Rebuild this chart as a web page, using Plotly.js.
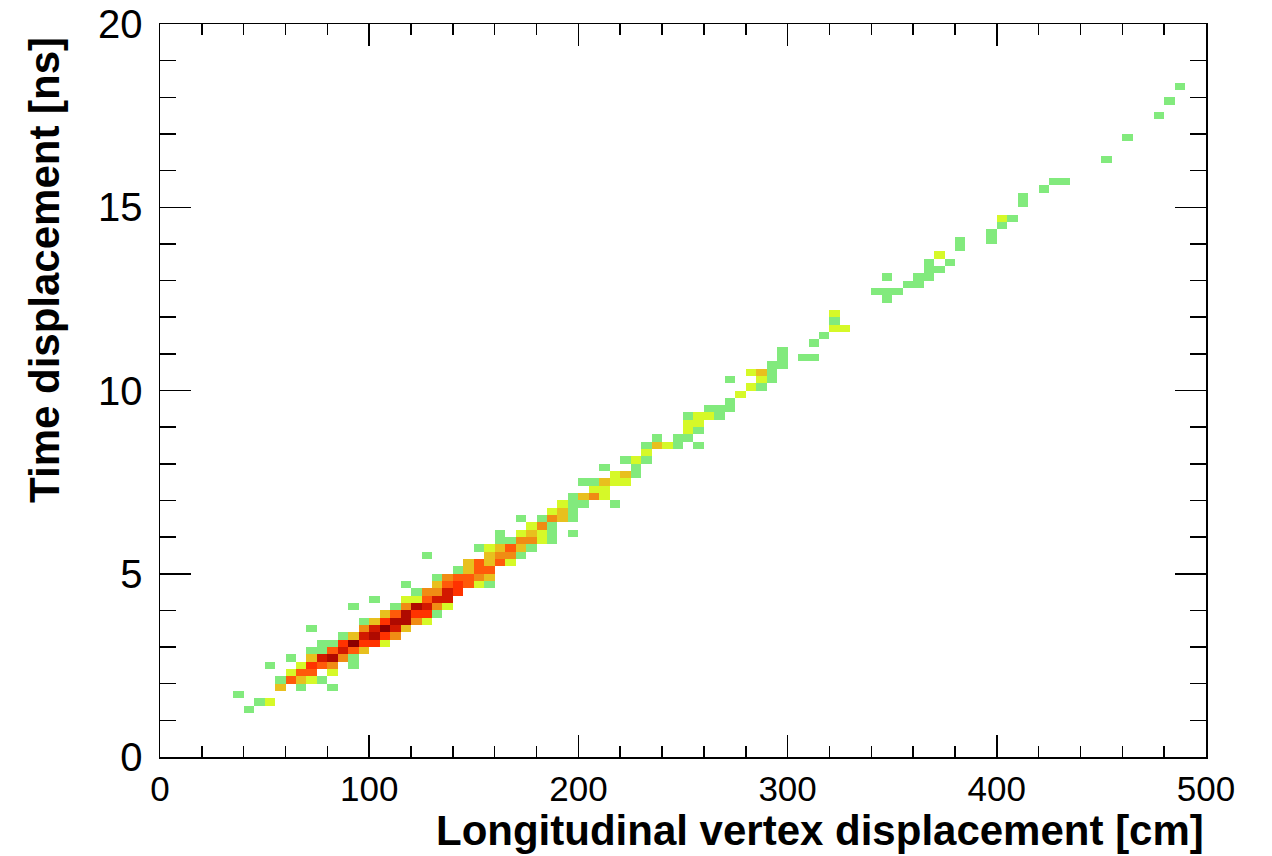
<!DOCTYPE html>
<html>
<head>
<meta charset="utf-8">
<script src="https://cdn.plot.ly/plotly-3.0.1.min.js"></script>
<style>
html,body{margin:0;padding:0;background:#ffffff;}
#chart{width:1272px;height:856px;}
</style>
</head>
<body>
<div id="chart"></div>
<script>
// ---- Data: filled bins of the 2D histogram (bin centre in cm, bin centre in ns, count level) ----
const cellX = [
  42.5,
  47.5, 52.5,
  37.5,
  57.5, 67.5, 82.5,
  57.5, 62.5, 67.5, 72.5, 77.5,
  62.5, 67.5, 72.5, 82.5,
  52.5, 67.5, 72.5, 77.5, 82.5, 92.5,
  62.5, 72.5, 77.5, 82.5, 87.5, 92.5,
  72.5, 77.5, 82.5, 87.5, 92.5, 97.5,
  77.5, 82.5, 87.5, 92.5, 97.5, 102.5, 107.5,
  87.5, 92.5, 97.5, 102.5, 107.5, 112.5,
  72.5, 97.5, 102.5, 107.5, 112.5, 117.5,
  97.5, 102.5, 107.5, 112.5, 117.5, 122.5, 127.5,
  107.5, 112.5, 117.5, 122.5, 127.5, 132.5,
  92.5, 112.5, 117.5, 122.5, 127.5, 132.5, 137.5,
  102.5, 117.5, 122.5, 127.5, 132.5, 137.5,
  122.5, 127.5, 132.5, 137.5, 142.5,
  117.5, 132.5, 137.5, 142.5, 147.5, 152.5, 157.5,
  132.5, 137.5, 142.5, 147.5, 152.5, 157.5,
  142.5, 147.5, 152.5, 157.5,
  147.5, 152.5, 157.5, 162.5, 167.5,
  127.5, 157.5, 162.5, 167.5, 172.5,
  152.5, 157.5, 162.5, 167.5, 172.5, 177.5,
  162.5, 167.5, 172.5, 177.5, 182.5, 187.5,
  162.5, 172.5, 177.5, 182.5, 187.5, 197.5,
  177.5, 182.5, 187.5,
  172.5, 182.5, 187.5, 192.5, 197.5,
  187.5, 192.5, 197.5,
  192.5, 197.5, 202.5, 217.5,
  197.5, 202.5, 207.5, 212.5,
  207.5, 212.5,
  202.5, 207.5, 212.5, 217.5, 222.5,
  217.5, 222.5, 227.5,
  212.5, 227.5,
  222.5, 227.5, 232.5,
  232.5,
  232.5, 237.5, 242.5, 247.5, 257.5,
  237.5, 247.5, 252.5,
  252.5, 257.5,
  252.5, 257.5,
  252.5, 257.5, 262.5, 267.5,
  262.5, 267.5, 272.5,
  272.5,
  277.5,
  282.5, 287.5,
  272.5, 287.5, 292.5,
  282.5, 287.5, 292.5,
  292.5, 297.5,
  297.5, 307.5, 312.5,
  297.5,
  312.5,
  317.5,
  322.5, 327.5,
  322.5,
  322.5,
  347.5,
  342.5, 347.5, 352.5,
  357.5, 362.5,
  347.5, 362.5, 367.5,
  367.5, 372.5,
  367.5, 377.5,
  372.5,
  382.5,
  382.5, 397.5,
  397.5,
  402.5,
  402.5, 407.5,
  412.5,
  412.5,
  422.5,
  427.5, 432.5,
  452.5,
  462.5,
  477.5,
  482.5,
  487.5
];
const cellY = [
  1.3,
  1.5, 1.5,
  1.7,
  1.9, 1.9, 1.9,
  2.1, 2.1, 2.1, 2.1, 2.1,
  2.3, 2.3, 2.3, 2.3,
  2.5, 2.5, 2.5, 2.5, 2.5, 2.5,
  2.7, 2.7, 2.7, 2.7, 2.7, 2.7,
  2.9, 2.9, 2.9, 2.9, 2.9, 2.9,
  3.1, 3.1, 3.1, 3.1, 3.1, 3.1, 3.1,
  3.3, 3.3, 3.3, 3.3, 3.3, 3.3,
  3.5, 3.5, 3.5, 3.5, 3.5, 3.5,
  3.7, 3.7, 3.7, 3.7, 3.7, 3.7, 3.7,
  3.9, 3.9, 3.9, 3.9, 3.9, 3.9,
  4.1, 4.1, 4.1, 4.1, 4.1, 4.1, 4.1,
  4.3, 4.3, 4.3, 4.3, 4.3, 4.3,
  4.5, 4.5, 4.5, 4.5, 4.5,
  4.7, 4.7, 4.7, 4.7, 4.7, 4.7, 4.7,
  4.9, 4.9, 4.9, 4.9, 4.9, 4.9,
  5.1, 5.1, 5.1, 5.1,
  5.3, 5.3, 5.3, 5.3, 5.3,
  5.5, 5.5, 5.5, 5.5, 5.5,
  5.7, 5.7, 5.7, 5.7, 5.7, 5.7,
  5.9, 5.9, 5.9, 5.9, 5.9, 5.9,
  6.1, 6.1, 6.1, 6.1, 6.1, 6.1,
  6.3, 6.3, 6.3,
  6.5, 6.5, 6.5, 6.5, 6.5,
  6.7, 6.7, 6.7,
  6.9, 6.9, 6.9, 6.9,
  7.1, 7.1, 7.1, 7.1,
  7.3, 7.3,
  7.5, 7.5, 7.5, 7.5, 7.5,
  7.7, 7.7, 7.7,
  7.9, 7.9,
  8.1, 8.1, 8.1,
  8.3,
  8.5, 8.5, 8.5, 8.5, 8.5,
  8.7, 8.7, 8.7,
  8.9, 8.9,
  9.1, 9.1,
  9.3, 9.3, 9.3, 9.3,
  9.5, 9.5, 9.5,
  9.7,
  9.9,
  10.1, 10.1,
  10.3, 10.3, 10.3,
  10.5, 10.5, 10.5,
  10.7, 10.7,
  10.9, 10.9, 10.9,
  11.1,
  11.3,
  11.5,
  11.7, 11.7,
  11.9,
  12.1,
  12.5,
  12.7, 12.7, 12.7,
  12.9, 12.9,
  13.1, 13.1, 13.1,
  13.3, 13.3,
  13.5, 13.5,
  13.7,
  13.9,
  14.1, 14.1,
  14.3,
  14.5,
  14.7, 14.7,
  15.1,
  15.3,
  15.5,
  15.7, 15.7,
  16.3,
  16.9,
  17.5,
  17.9,
  18.3
];
const cellCount = [
  1,
  1, 2,
  1,
  3, 1, 1,
  1, 5, 3, 2, 1,
  2, 5, 5, 2,
  1, 2, 6, 5, 4, 1,
  1, 3, 7, 8, 4, 1,
  1, 1, 5, 7, 5, 3,
  1, 1, 6, 9, 6, 6, 2,
  1, 3, 7, 8, 6, 4,
  1, 4, 7, 9, 7, 3,
  1, 3, 6, 8, 8, 4, 2,
  3, 5, 8, 6, 6, 1,
  1, 1, 4, 8, 7, 4, 2,
  1, 2, 2, 5, 7, 7,
  1, 4, 4, 7, 6,
  1, 3, 5, 6, 5, 2, 1,
  1, 4, 5, 5, 4, 3,
  1, 3, 5, 5,
  3, 5, 3, 5, 2,
  1, 3, 4, 4, 1,
  1, 2, 3, 5, 3, 1,
  1, 1, 4, 4, 2, 1,
  1, 2, 3, 2, 1, 1,
  2, 4, 1,
  1, 1, 4, 3, 1,
  2, 3, 1,
  2, 1, 1, 1,
  1, 3, 4, 2,
  2, 2,
  1, 1, 3, 2, 2,
  2, 3, 1,
  1, 1,
  1, 2, 1,
  2,
  1, 3, 2, 1, 1,
  1, 1, 1,
  2, 1,
  2, 2,
  1, 2, 2, 1,
  1, 1, 1,
  1,
  2,
  2, 1,
  1, 2, 1,
  2, 3, 1,
  1, 1,
  1, 1, 1,
  1,
  1,
  1,
  2, 2,
  1,
  2,
  1,
  1, 1, 1,
  1, 1,
  1, 1, 1,
  1, 1,
  1, 1,
  2,
  1,
  1, 1,
  1,
  1,
  2, 1,
  1,
  1,
  1,
  1, 1,
  1,
  1,
  1,
  1,
  1
];
// colour of each count level (1 = lowest ... 9 = highest)
const levelColors = ['#82ea7d', '#d6f928', '#e8c01e', '#f08c14', '#ff5a0a', '#ff3200', '#d21900', '#af0a00', '#8c0000'];
const xTickVals = [0, 100, 200, 300, 400, 500];
const yTickVals = [0, 5, 10, 15, 20];
const xTitle = 'Longitudinal vertex displacement [cm]';
const yTitle = 'Time displacement [ns]';
const xBins = {min: 0, max: 500, n: 100};
const yBins = {min: 0, max: 20, n: 100};

// ---- Build the 100x100 grid ----
const bw = (xBins.max - xBins.min) / xBins.n;
const bh = (yBins.max - yBins.min) / yBins.n;
const xc = Array.from({length: xBins.n}, (_, k) => xBins.min + bw * (k + 0.5));
const yc = Array.from({length: yBins.n}, (_, k) => yBins.min + bh * (k + 0.5));
const z = yc.map(() => xc.map(() => null));
cellX.forEach((x, k) => {
  const i = Math.floor((x - xBins.min) / bw + 1e-9);
  const j = Math.floor((cellY[k] - yBins.min) / bh + 1e-9);
  z[j][i] = cellCount[k];
});

const nLev = levelColors.length;
const colorscale = [];
levelColors.forEach((c, k) => {
  colorscale.push([k / nLev, c]);
  colorscale.push([(k + 1) / nLev, c]);
});

const trace = {
  type: 'heatmap',
  x: xc, y: yc, z: z,
  zmin: 0.5, zmax: nLev + 0.5,
  colorscale: colorscale,
  showscale: false,
  hoverongaps: false,
  zsmooth: false
};

const fam = 'Liberation Sans, Arial, sans-serif';
const xTickFont = {family: fam, size: 35, color: '#000'};
const yTickFont = {family: fam, size: 40, color: '#000'};
const titleFont = {family: fam, size: 42, color: '#000', weight: 'bold'};

const layout = {
  width: 1272, height: 856,
  margin: {l: 160, r: 66, t: 24, b: 99, pad: 0},
  paper_bgcolor: '#fff', plot_bgcolor: '#fff',
  showlegend: false,
  xaxis: {
    range: [xBins.min, xBins.max], tickvals: xTickVals, ticktext: xTickVals.map(String),
    ticks: 'inside', ticklen: 22, tickwidth: 1.5, tickcolor: '#000',
    showline: true, linecolor: '#000', linewidth: 1.5, mirror: 'ticks',
    showgrid: false, zeroline: false, tickfont: xTickFont, ticklabelstandoff: 0,
    minor: {dtick: 20, tick0: 0, ticks: 'inside', ticklen: 11, tickwidth: 1.5, tickcolor: '#000', showgrid: false}
  },
  yaxis: {
    range: [yBins.min, yBins.max], tickvals: yTickVals, ticktext: yTickVals.map(String),
    ticks: 'inside', ticklen: 31, tickwidth: 1.5, tickcolor: '#000',
    showline: true, linecolor: '#000', linewidth: 1.5, mirror: 'ticks',
    showgrid: false, zeroline: false, tickfont: yTickFont, ticklabelstandoff: 8,
    minor: {dtick: 1, tick0: 0, ticks: 'inside', ticklen: 16, tickwidth: 1.5, tickcolor: '#000', showgrid: false}
  },
  annotations: [
    {text: '<b>' + xTitle + '</b>', xref: 'paper', yref: 'paper', x: 1, y: -0.1,
     xanchor: 'right', yanchor: 'middle', showarrow: false, font: titleFont},
    {text: '<b>' + yTitle + '</b>', xref: 'paper', yref: 'paper', x: -0.11, y: 0.985,
     xanchor: 'center', yanchor: 'top', textangle: -90, showarrow: false, font: titleFont}
  ]
};

Plotly.newPlot('chart', [trace], layout, {displayModeBar: false, staticPlot: true});
</script>
</body>
</html>
